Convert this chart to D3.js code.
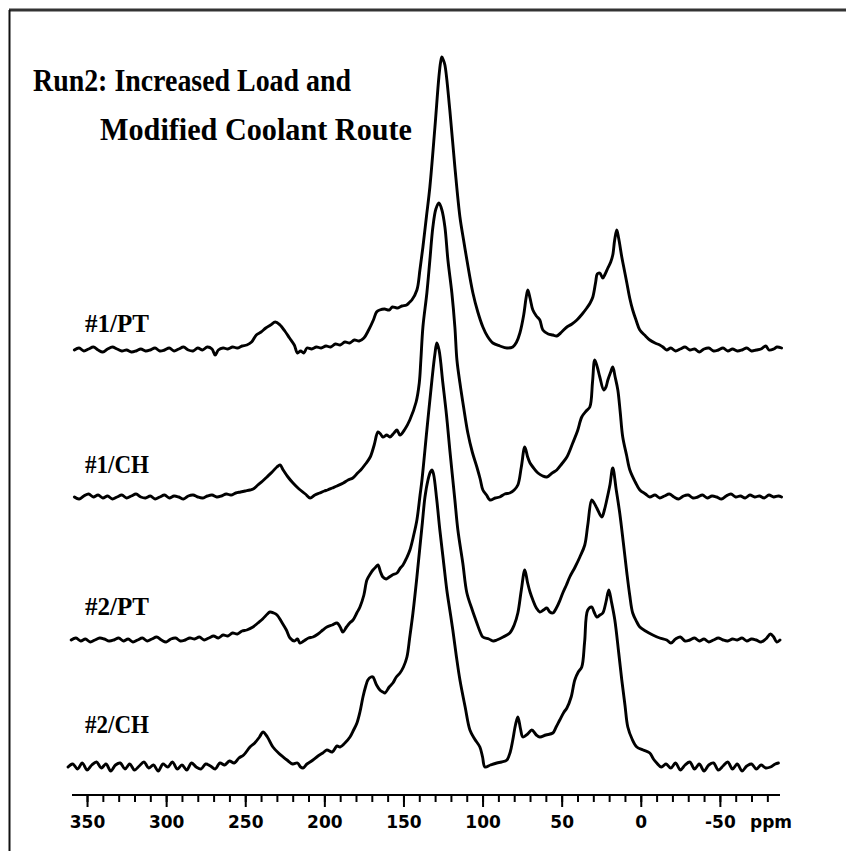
<!DOCTYPE html>
<html>
<head>
<meta charset="utf-8">
<script src="https://cdn.jsdelivr.net/npm/d3@7"></script>
<style>
  html, body { margin: 0; padding: 0; background: #fff; }
  svg { display: block; }
</style>
</head>
<body>
<svg id="chart" width="846" height="851"></svg>
<script>
// 13C NMR spectra, stacked. Each point: [chemical shift (ppm), intensity above baseline]
const seriesNames = ["#1/PT", "#1/CH", "#2/PT", "#2/CH"];
const titleLines = ["Run2: Increased Load and", "Modified Coolant Route"];
const ppmTicks = [350, 300, 250, 200, 150, 100, 50, 0, -50];
const ppmMinorTicks = [350,340,330,320,310,300,290,280,270,260,250,240,230,220,210,200,190,180,170,160,150,140,130,120,110,100,90,80,70,60,50,40,30,20,10,0,-10,-20,-30,-40,-50,-60,-70,-80];
const axisUnit = "ppm";

const spec1PT = [[358,0],[355,2],[352,-1],[349,1],[346,3],[343,0],[340,-2],[337,1],[334,3],[331,1],[328,-1],[325,0],[322,-2],[319,-1],[316,1],[313,-1],[310,0],[307,2],[304,-1],[301,0],[298,2],[295,-1],[292,1],[289,3],[286,0],[283,-1],[280,2],[277,0],[274,3],[271,1],[269,-5],[267,0],[264,2],[261,1],[258,3],[255,2],[252,4],[249,5],[246,8],[243,15],[240,18],[237,22],[234,25],[231,28],[228,25],[225,19],[222,12],[219,5],[217,-3],[215,-1],[213,-3],[211,2],[208,1],[205,3],[202,2],[199,4],[196,3],[193,6],[190,5],[187,8],[184,7],[181,10],[178,9],[175,12],[172,20],[169,30],[167,38],[165,40],[162,41],[159,40],[157,43],[154,42],[151,44],[148,45],[146,48],[144.7,50],[141.5,60],[139.6,80],[137.7,103],[135.5,133],[133.3,163],[130.1,223],[127.6,273],[126.5,288],[125.7,293],[124.8,290],[123.8,285],[120.7,240],[117.5,183],[114.3,133],[112,110],[109.9,90],[106.1,57],[103,38],[99.8,23],[97,14],[93.5,7],[89,4],[84.6,2],[80.9,3],[78.5,8],[76.4,17],[74,35],[72.5,52],[71.4,60],[70,52],[68.2,40],[66,34],[63.8,30],[61.9,20],[58.5,16],[55.6,15],[53.1,14],[50,18],[46.7,23],[43.5,26],[40.4,30],[37,36],[34.1,42],[32,47],[30.3,53],[28.5,68],[27.5,76],[25.9,77],[24,72],[22.5,76],[20.8,82],[19,88],[17.7,95],[16.5,110],[15.2,120],[14,112],[12,93],[10.4,80],[8.8,67],[7,52],[5.1,40],[3,30],[0.6,20],[-3,14],[-5.7,10],[-9,7],[-12,5],[-14,3],[-16.4,0],[-19,2],[-22,-1],[-25,1],[-28,3],[-31,0],[-34,1],[-37,-2],[-40,1],[-43,2],[-46,-1],[-49,0],[-52,2],[-55,-1],[-58,1],[-61,-1],[-64,0],[-67,2],[-70,-1],[-73,0],[-76,1],[-79,4],[-81,0],[-84,1],[-86,3],[-89,2]];

const spec1CH = [[358,0],[355,-2],[352,1],[349,3],[346,0],[343,2],[340,-1],[337,1],[334,-2],[331,0],[328,2],[325,-1],[322,1],[319,3],[316,0],[313,-1],[310,1],[307,-2],[304,0],[301,2],[298,-1],[295,1],[292,0],[289,-2],[286,1],[283,2],[280,0],[277,-1],[274,1],[271,2],[268,0],[265,1],[262,3],[259,2],[256,4],[253,5],[250,6],[247,7],[245,8],[242,12],[239,16],[236.3,20],[233,25],[230,30],[228,32],[226,27],[223,20],[219.8,14],[216,8],[212,3],[209,-1],[206,2],[203,4],[200,6],[198,7],[195,9],[192,11],[188,14],[185,17],[182,19],[179,24],[177,27],[174,33],[171,40],[168.5,52],[166.1,65],[164.5,63],[163,60],[160.5,62],[158.6,60],[156,64],[154.1,67],[152.2,62],[149,68],[146,77],[142,95],[140,114],[139,137],[137.7,170],[135.2,204],[133.3,237],[131.4,270],[129.5,288],[127.6,294],[125.7,287],[123.8,270],[121.9,237],[119.4,204],[117.5,170],[116.2,137],[114.3,114],[112,90],[109.3,64],[106.5,45],[103.6,30],[101.5,18],[99.8,7],[97.5,2],[95.3,-3],[92,-1],[89.1,0],[86,3],[82.8,4],[80,7],[77.7,12],[75.5,30],[73.3,50],[71.5,40],[70,34],[68.2,30],[65,24],[62,21],[59.4,20],[56,24],[53.1,27],[50,33],[46.7,40],[43,54],[40,66],[37.3,80],[34.5,86],[32.2,90],[30.5,115],[29.1,137],[27.5,130],[25.9,120],[23.4,107],[22,110],[20.8,117],[19,125],[17.7,130],[16.2,120],[14.5,107],[13,85],[11.4,60],[9,42],[6.9,27],[3.5,15],[0.6,7],[-3,3],[-5.7,0],[-9,2],[-12,-1],[-15,1],[-18,3],[-21,0],[-24,-2],[-27,1],[-30,2],[-33,-1],[-36,0],[-39,2],[-42,-1],[-45,1],[-48,0],[-51,-2],[-54,1],[-57,3],[-60,0],[-63,1],[-66,-1],[-69,2],[-72,0],[-75,1],[-78,-1],[-81,2],[-84,0],[-87,1],[-89,0]];

const spec2PT = [[360,0],[357,2],[354,-1],[351,1],[348,-2],[345,0],[342,2],[339,1],[336,-1],[333,0],[330,2],[327,-1],[324,1],[321,-2],[318,0],[315,2],[312,-1],[309,1],[306,3],[303,0],[300,-2],[297,1],[294,2],[291,-1],[288,0],[285,2],[282,1],[279,3],[276,0],[273,2],[270,4],[267,2],[264,5],[261,4],[258,7],[255,6],[252,9],[249,10],[245.1,13],[242,17],[239,21],[236,26],[234.4,28],[232,27],[229.9,25],[227,18],[224,10],[221.7,2],[219,-1],[217,1],[215.4,-3],[213,-1],[210,2],[207.2,3],[204,6],[201,10],[198.4,13],[195,15],[192,17],[190,13],[188.3,8],[186,13],[184,17],[181.9,20],[179.5,27],[177.5,33],[175,45],[173.1,60],[171,66],[169.3,70],[167.5,73],[166.1,75],[164.5,68],[163,63],[161,61],[159.8,62],[157,65],[154.1,67],[152,72],[150.3,75],[148,82],[145.9,90],[143.5,105],[141.5,120],[139.5,145],[138.3,160],[135.2,210],[132,260],[130.2,285],[128.9,297],[127.5,290],[125.1,257],[122.8,225],[120.7,190],[117.5,140],[115.6,110],[112.5,77],[109.9,47],[106.5,30],[103.6,17],[101.5,8],[99.8,3],[96,1],[93,-1],[91,0],[87,3],[82.8,7],[80,15],[77.7,27],[75.5,50],[73.3,70],[71.5,57],[70,48],[68.2,40],[66,32],[63.8,28],[61.5,30],[59.4,32],[57.5,28],[55.6,27],[53,33],[51,40],[49.3,47],[47,55],[44.9,63],[41.5,73],[38.5,83],[35.4,95],[33.5,115],[31,140],[29.5,137],[27.8,132],[24.6,123],[23,130],[21.5,140],[19.5,155],[17.7,172],[15.5,150],[13.3,127],[11,97],[8.8,67],[7,45],[5.1,27],[2.5,18],[0.6,13],[-3,9],[-7.6,5],[-12,2],[-16.4,0],[-19,-3],[-22,1],[-25,3],[-28,-1],[-31,0],[-34,2],[-37,-1],[-40,1],[-43,-2],[-46,0],[-49,2],[-52,0],[-55,-1],[-58,1],[-61,0],[-64,2],[-67,-1],[-70,1],[-73,0],[-76,-2],[-79,1],[-82,6],[-84,3],[-86,-2],[-88,0]];

const spec2CH = [[362,0],[359,3],[356,-2],[353,4],[350,-3],[347,2],[344,5],[341,-1],[338,3],[335,-4],[332,2],[329,4],[326,-2],[323,3],[320,-3],[317,1],[314,5],[311,-1],[308,2],[305,-4],[302,3],[299,0],[296,5],[293,-2],[290,2],[287,-3],[284,4],[281,0],[278,-2],[275,3],[272,1],[269,-2],[266,4],[263,2],[260,6],[257,4],[254,9],[251,12],[247,20],[244,24],[241,30],[238.8,35],[236,30],[232.5,20],[229,14],[226,10],[223.6,7],[220,3],[217,4],[215,0],[213.5,-1],[211,3],[209,5],[207.2,7],[204,11],[201,14],[198.4,17],[195,15],[192,21],[190.1,20],[187,24],[183.8,30],[181.5,37],[179.4,44],[177.5,55],[175.6,70],[174,80],[172.5,87],[170.5,90],[169.3,90],[167,82],[164.9,77],[163,75],[161.7,74],[159,80],[156.7,84],[154.5,90],[152.2,94],[150,100],[147.8,110],[146,130],[144,154],[141.5,190],[139.6,220],[138,245],[136.4,270],[134.5,287],[133,295],[132,297],[131,293],[129,268],[127,237],[124.8,207],[122.6,177],[120.7,157],[118.8,137],[116.5,110],[114.3,87],[111,60],[108,37],[105,28],[101.7,20],[100,10],[98.5,0],[95,2],[91,4],[88,5],[84.6,7],[82.5,15],[80.9,27],[79.2,42],[77.7,50],[76,38],[74.5,30],[71.5,33],[68.9,37],[66,32],[63.8,30],[60,32],[55.6,34],[53.5,40],[51.2,47],[48.5,55],[46.7,59],[44,70],[41.7,87],[39.5,95],[37.3,100],[35.5,125],[33.5,157],[31,160],[29.5,155],[27.8,150],[25.8,152],[24,154],[22,165],[20.2,177],[18.5,165],[16.4,147],[14,115],[12,87],[10,62],[8.2,40],[5.5,28],[2.5,20],[-1.5,17],[-5.7,14],[-8,8],[-10.1,4],[-13,0],[-16,3],[-19,-1],[-22,4],[-25,-3],[-28,2],[-31,5],[-34,-2],[-37,3],[-40,-4],[-43,2],[-46,4],[-49,-3],[-52,1],[-55,5],[-58,-2],[-61,3],[-64,-4],[-67,1],[-70,3],[-73,-2],[-76,2],[-79,-1],[-82,0],[-85,3],[-87,4]];

const spectra = [spec1PT, spec1CH, spec2PT, spec2CH];

// ---- layout ----
const svg = d3.select("#chart");
const traceBase = [350, 497, 640, 767];   // pixel baseline of each stacked trace
const labelBase = [332, 473, 615, 733];   // text baseline of each trace label
const axisY = 795;

const x = d3.scaleLinear().domain([359.5, -88]).range([72, 780]);
const amp = d3.scaleLinear().domain([0, 300]).range([0, 300]);

// frame (top and left edges)
svg.append("line").attr("x1", 9).attr("x2", 846).attr("y1", 10).attr("y2", 10)
  .attr("stroke", "#333").attr("stroke-width", 3);
svg.append("line").attr("x1", 9.5).attr("x2", 9.5).attr("y1", 10).attr("y2", 851)
  .attr("stroke", "#111").attr("stroke-width", 2);

// traces
spectra.forEach((s, i) => {
  const line = d3.line()
    .x(d => x(d[0]))
    .y(d => traceBase[i] - amp(d[1]))
    .curve(d3.curveCatmullRom.alpha(0.5));
  svg.append("path")
    .datum(s)
    .attr("d", line)
    .attr("fill", "none")
    .attr("stroke", "#000")
    .attr("stroke-width", 2.9)
    .attr("stroke-linejoin", "round")
    .attr("stroke-linecap", "round");
});

// trace labels
svg.selectAll("text.lab").data(seriesNames).join("text")
  .attr("class", "lab")
  .attr("x", 85)
  .attr("y", (d, i) => labelBase[i])
  .attr("font-family", "'Liberation Serif', 'Times New Roman', serif")
  .attr("font-weight", "bold")
  .attr("font-size", 26)
  .attr("textLength", 64)
  .attr("lengthAdjust", "spacingAndGlyphs")
  .text(d => d);

// title
const titleX = [33, 100], titleY = [91, 140], titleW = [318, 312];
svg.selectAll("text.title").data(titleLines).join("text")
  .attr("class", "title")
  .attr("x", (d, i) => titleX[i])
  .attr("y", (d, i) => titleY[i])
  .attr("font-family", "'Liberation Serif', 'Times New Roman', serif")
  .attr("font-weight", "bold")
  .attr("font-size", 32)
  .attr("textLength", (d, i) => titleW[i])
  .attr("lengthAdjust", "spacingAndGlyphs")
  .text(d => d);

// ppm axis
const axisG = svg.append("g").attr("transform", `translate(0,${axisY})`);
axisG.append("line").attr("x1", x.range()[0]).attr("x2", x.range()[1])
  .attr("stroke", "#000").attr("stroke-width", 2.2);

const minorAxis = d3.axisBottom(x).tickValues(ppmMinorTicks).tickSize(7).tickFormat("");
const majorAxis = d3.axisBottom(x).tickValues(ppmTicks).tickSize(12).tickPadding(9)
  .tickFormat(d => String(d));

const gMinor = axisG.append("g").call(minorAxis);
const gMajor = axisG.append("g").call(majorAxis);
[gMinor, gMajor].forEach(g => {
  g.select(".domain").remove();
  g.selectAll(".tick line").attr("stroke", "#000").attr("stroke-width", 2);
});
gMajor.selectAll(".tick text")
  .attr("font-family", "'DejaVu Sans', sans-serif")
  .attr("font-weight", "bold")
  .attr("font-size", 17)
  .attr("fill", "#000");

axisG.append("text")
  .attr("x", 771).attr("y", 33)
  .attr("text-anchor", "middle")
  .attr("font-family", "'DejaVu Sans', sans-serif")
  .attr("font-weight", "bold")
  .attr("font-size", 17)
  .text(axisUnit);
</script>
</body>
</html>
